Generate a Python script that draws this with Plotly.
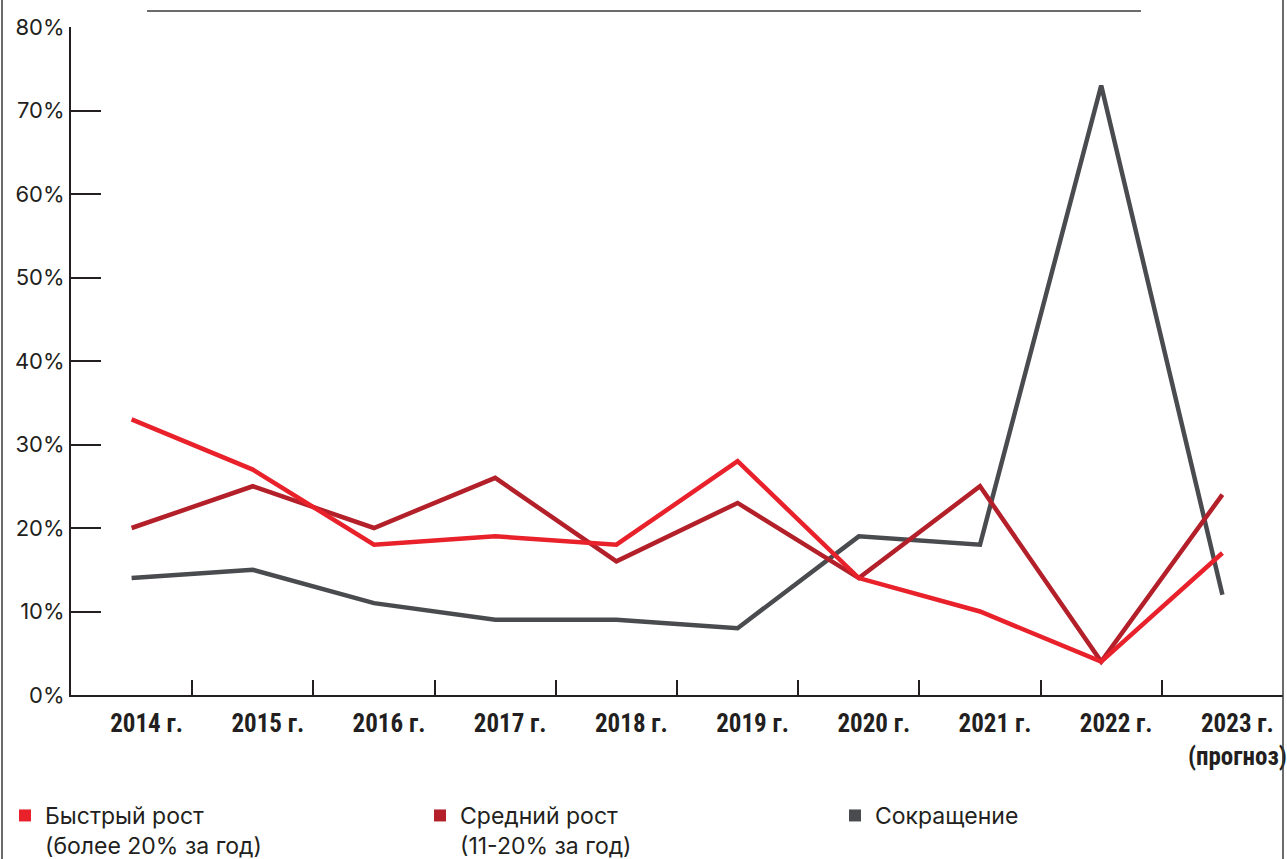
import plotly.graph_objects as go

years = ["2014 г.", "2015 г.", "2016 г.", "2017 г.", "2018 г.", "2019 г.",
         "2020 г.", "2021 г.", "2022 г.", "2023 г.<br>(прогноз)"]
fast_growth = [33, 27, 18, 19, 18, 28, 14, 10, 4, 17]
mid_growth = [20, 25, 20, 26, 16, 23, 14, 25, 4, 24]
decline = [14, 15, 11, 9, 9, 8, 19, 18, 73, 12]
y_ticks = [0, 10, 20, 30, 40, 50, 60, 70, 80]
y_tick_text = [f"{v}%" for v in y_ticks]

names = ["Быстрый рост<br>(более 20% за год)", "Средний рост<br>(11-20% за год)", "Сокращение"]
colors = ["#e8212b", "#b3202a", "#4a4b4f"]
series = [fast_growth, mid_growth, decline]

fig = go.Figure()
# draw order: gray first, then dark red, then red on top
for idx in [2, 1, 0]:
    fig.add_trace(go.Scatter(x=years, y=series[idx], mode="lines",
                             line=dict(color=colors[idx], width=4.5),
                             showlegend=False, hoverinfo="skip"))
for name, col in zip(names, colors):
    fig.add_trace(go.Scatter(x=[None], y=[None], mode="markers", name=name,
                             marker=dict(symbol="square", size=10, color=col)))

axis_col = "#231f20"
fig.update_xaxes(type="category", range=[-0.5, 9.5], showline=True, linecolor=axis_col,
                 linewidth=2, ticks="inside", ticklen=15, tickwidth=2, tickcolor=axis_col,
                 tickson="boundaries", showgrid=False, zeroline=False, automargin=False,
                 ticklabelshift=15, ticklabelstandoff=5,
                 tickfont=dict(family="Roboto Condensed, Liberation Sans Narrow, Roboto", size=25,
                               color=axis_col, weight="bold"))
fig.update_yaxes(range=[0, 80], tickvals=y_ticks, ticktext=y_tick_text, showline=True,
                 linecolor=axis_col, linewidth=2, ticks="inside", ticklen=30, tickwidth=2,
                 tickcolor=axis_col, showgrid=False, zeroline=False, automargin=False,
                 tickfont=dict(family="Inter, Noto Sans", size=22, color=axis_col))

W, H = 1287, 859
ml, mr, mt, mb = 71, 4, 27, 164
pw, ph = W - ml - mr, H - mt - mb

def px(x):
    return (x - ml) / pw

def py(y):
    return (H - mb - y) / ph

shapes = [
    dict(type="line", xref="paper", yref="paper", x0=px(2), x1=px(2), y0=py(0), y1=py(H),
         line=dict(color="#3a3a3a", width=1.5)),
    dict(type="line", xref="paper", yref="paper", x0=px(1283), x1=px(1283), y0=py(0), y1=py(H),
         line=dict(color="#3a3a3a", width=1.5)),
    dict(type="line", xref="paper", yref="paper", x0=px(147), x1=px(1141), y0=py(11), y1=py(11),
         line=dict(color="#3a3a3a", width=1.5)),
]

fig.update_layout(
    width=W, height=H, margin=dict(l=ml, r=mr, t=mt, b=mb, autoexpand=False),
    plot_bgcolor="white", paper_bgcolor="white", shapes=shapes,
    legend=dict(orientation="h", xref="paper", yref="paper", x=px(5), y=py(794),
                xanchor="left", yanchor="top", entrywidth=370, entrywidthmode="pixels",
                valign="top", font=dict(family="Inter, Noto Sans", size=23, color=axis_col),
                bgcolor="rgba(0,0,0,0)", itemsizing="constant"),
)

fig.write_html("out.html", config={"displayModeBar": False},
               post_script="document.body.style.margin='0';document.body.style.overflow='hidden';")
